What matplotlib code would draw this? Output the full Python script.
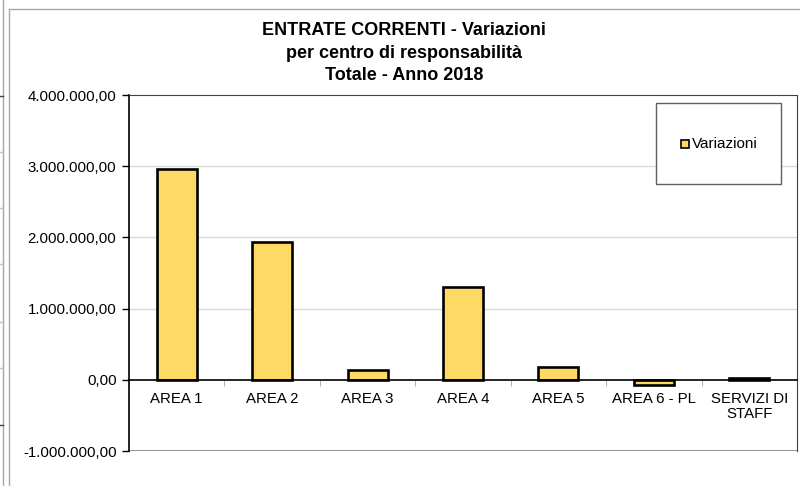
import matplotlib
matplotlib.use("Agg")
import matplotlib.pyplot as plt
from matplotlib.patches import Rectangle
from matplotlib.lines import Line2D
from matplotlib.ticker import FuncFormatter, FixedLocator
import numpy as np

plt.rcParams['font.family'] = ['Liberation Sans', 'DejaVu Sans']

title = "ENTRATE CORRENTI - Variazioni\nper centro di responsabilità\nTotale - Anno 2018"
categories = ["AREA 1", "AREA 2", "AREA 3", "AREA 4", "AREA 5", "AREA 6 - PL", "SERVIZI DI\nSTAFF"]
values = [2960000, 1940000, 140000, 1310000, 180000, -70000, 20000]
series_name = "Variazioni"
y_ticks = [-1000000, 0, 1000000, 2000000, 3000000, 4000000]

W, H = 800, 486
fig = plt.figure(figsize=(8, 4.86), dpi=100)

def fx(px): return px / W
def fy(py): return 1 - py / H

ax = fig.add_axes([fx(129), fy(451), fx(797) - fx(129), fy(95) - fy(451)])

x = np.arange(len(categories))
ax.bar(x, values, width=0.42, color='#FFD966', edgecolor='black', linewidth=1.9, zorder=3)

ax.set_xlim(-0.5, len(categories) - 0.5)
ax.set_ylim(-1000000, 4000000)

def it_fmt(v, pos):
    s = f"{abs(v):,.2f}".replace(",", "X").replace(".", ",").replace("X", ".")
    return ("-" if v < 0 else "") + s
ax.yaxis.set_major_locator(FixedLocator(y_ticks))
ax.yaxis.set_major_formatter(FuncFormatter(it_fmt))
ax.tick_params(axis='y', direction='out', length=5, width=1, color='black', pad=4, labelsize=10.8, labelcolor='black')

for t in y_ticks:
    if t not in (0, -1000000, 4000000):
        ax.axhline(t, color='#D9D9D9', linewidth=1, zorder=1)

# x axis on zero line
ax.spines['bottom'].set_position(('data', 0))
ax.spines['bottom'].set_color('black')
ax.spines['bottom'].set_linewidth(1.2)
ax.spines['bottom'].set_zorder(4)
ax.set_xticks(x)
ax.set_xticklabels(categories, fontsize=10.8, linespacing=1.05)
ax.set_xticks(np.arange(len(categories) + 1) - 0.5, minor=True)
ax.tick_params(axis='x', which='major', length=0, pad=9)
ax.tick_params(axis='x', which='minor', length=4, color='#A0A0A0', direction='out')

ax.spines['left'].set_color('black')
ax.spines['left'].set_linewidth(1.2)
ax.spines['top'].set_color('#404040')
ax.spines['right'].set_color('#404040')
ax.axhline(-1000000, color='#808080', linewidth=1.2, zorder=2)

fig.text(fx(404), fy(53), title, ha='center', va='center', fontsize=13,
         fontweight='bold', linespacing=1.42)

# legend box
fig.patches.append(Rectangle((fx(656), fy(184)), fx(781) - fx(656), fy(103) - fy(184),
                             transform=fig.transFigure, facecolor='white',
                             edgecolor='#606060', linewidth=1))
fig.patches.append(Rectangle((fx(681), fy(148)), fx(689) - fx(681), fy(140) - fy(148),
                             transform=fig.transFigure, facecolor='#FFD966',
                             edgecolor='black', linewidth=1.2))
fig.text(fx(692), fy(144), series_name, ha='left', va='center', fontsize=11)

# outer frame artifacts
grey = '#A6A6A6'
fig.add_artist(Line2D([fx(8.5), fx(8.5)], [fy(9), 0], transform=fig.transFigure, color=grey, lw=1))
fig.add_artist(Line2D([fx(8.5), 1], [fy(9), fy(9)], transform=fig.transFigure, color=grey, lw=1))
fig.add_artist(Line2D([fx(2.7), fx(2.7)], [1, 0], transform=fig.transFigure, color=grey, lw=1))
for i, yy in enumerate([96, 152, 208, 264, 322, 368, 425]):
    c = '#404040' if i in (0, 6) else '#C0C0C0'
    fig.add_artist(Line2D([0, fx(2.7)], [fy(yy), fy(yy)], transform=fig.transFigure, color=c, lw=1))

fig.savefig("out.png", dpi=100)
